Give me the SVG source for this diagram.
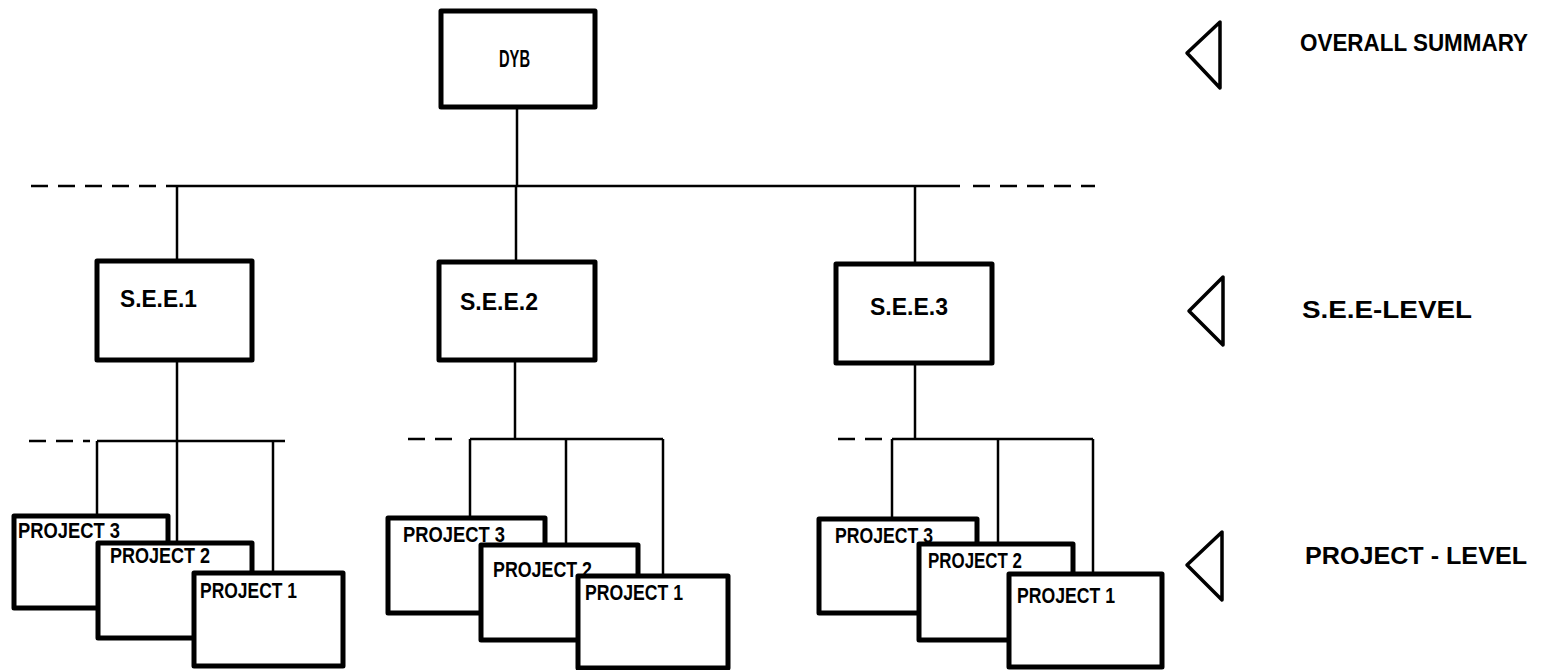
<svg xmlns="http://www.w3.org/2000/svg" width="1544" height="670" viewBox="0 0 1544 670">
<style>
.bg{fill:#fff}
.box{fill:#fff;stroke:#000;stroke-width:5;stroke-linejoin:round}
.ln{fill:none;stroke:#000;stroke-width:2.5}
.dash{fill:none;stroke:#000;stroke-width:2.5;stroke-dasharray:17 10}
.tri{fill:none;stroke:#000;stroke-width:3.5;stroke-linejoin:round}
.t{font-family:"Liberation Sans Narrow","Liberation Sans",Arial,sans-serif;font-weight:bold;fill:#000}
.bl{font-size:23px}
.pl{font-size:22px}
.rl{font-size:24px}
</style>
<rect class="bg" x="0" y="0" width="1544" height="670"/>
<g id="connectors">
  <line class="ln" x1="517" y1="107" x2="517" y2="186"/>
  <line class="dash" x1="31" y1="186" x2="177" y2="186"/>
  <line class="ln" x1="177" y1="186" x2="960" y2="186"/>
  <line class="dash" x1="973" y1="186" x2="1095" y2="186"/>
  <line class="ln" x1="177" y1="186" x2="177" y2="260"/>
  <line class="ln" x1="516" y1="186" x2="516" y2="262"/>
  <line class="ln" x1="915" y1="186" x2="915" y2="264"/>
  <line class="ln" x1="177" y1="360" x2="177" y2="441"/>
  <line class="dash" x1="29" y1="441" x2="90" y2="441"/>
  <line class="ln" x1="97" y1="441" x2="285" y2="441"/>
  <line class="ln" x1="97" y1="441" x2="97" y2="515"/>
  <line class="ln" x1="177" y1="441" x2="177" y2="543"/>
  <line class="ln" x1="273" y1="441" x2="273" y2="572"/>
  <line class="ln" x1="515" y1="360" x2="515" y2="439"/>
  <line class="dash" x1="408" y1="439" x2="462" y2="439"/>
  <line class="ln" x1="470" y1="439" x2="663" y2="439"/>
  <line class="ln" x1="470" y1="439" x2="470" y2="517"/>
  <line class="ln" x1="566" y1="439" x2="566" y2="544"/>
  <line class="ln" x1="663" y1="439" x2="663" y2="575"/>
  <line class="ln" x1="915" y1="363" x2="915" y2="439"/>
  <line class="dash" x1="838" y1="439" x2="888" y2="439"/>
  <line class="ln" x1="892" y1="439" x2="1093" y2="439"/>
  <line class="ln" x1="892" y1="439" x2="892" y2="518"/>
  <line class="ln" x1="998" y1="439" x2="998" y2="543"/>
  <line class="ln" x1="1093" y1="439" x2="1093" y2="573"/>
</g>
<g id="dyb">
  <rect class="box" x="441" y="11" width="154" height="96"/>
  <text class="t bl" x="499" y="67" textLength="31" lengthAdjust="spacingAndGlyphs">DYB</text>
</g>
<g id="see1">
  <rect class="box" x="97" y="261" width="155" height="99"/>
  <text class="t bl" x="120" y="307" textLength="77" lengthAdjust="spacingAndGlyphs">S.E.E.1</text>
</g>
<g id="see2">
  <rect class="box" x="439" y="262" width="156" height="98"/>
  <text class="t bl" x="460" y="310" textLength="78" lengthAdjust="spacingAndGlyphs">S.E.E.2</text>
</g>
<g id="see3">
  <rect class="box" x="836" y="264" width="156" height="99"/>
  <text class="t bl" x="870" y="315" textLength="78" lengthAdjust="spacingAndGlyphs">S.E.E.3</text>
</g>
<g id="g1-project3">
  <rect class="box" x="14" y="516" width="154" height="92"/>
  <text class="t pl" x="18" y="538" textLength="102" lengthAdjust="spacingAndGlyphs">PROJECT 3</text>
</g>
<g id="g1-project2">
  <rect class="box" x="98" y="543" width="154" height="95"/>
  <text class="t pl" x="110" y="563" textLength="100" lengthAdjust="spacingAndGlyphs">PROJECT 2</text>
</g>
<g id="g1-project1">
  <rect class="box" x="194" y="573" width="149" height="93"/>
  <text class="t pl" x="200" y="598" textLength="97" lengthAdjust="spacingAndGlyphs">PROJECT 1</text>
</g>
<g id="g2-project3">
  <rect class="box" x="388" y="518" width="157" height="95"/>
  <text class="t pl" x="403" y="542" textLength="102" lengthAdjust="spacingAndGlyphs">PROJECT 3</text>
</g>
<g id="g2-project2">
  <rect class="box" x="481" y="545" width="157" height="95"/>
  <text class="t pl" x="493" y="577" textLength="99" lengthAdjust="spacingAndGlyphs">PROJECT 2</text>
</g>
<g id="g2-project1">
  <rect class="box" x="578" y="576" width="150" height="92"/>
  <text class="t pl" x="585" y="600" textLength="98" lengthAdjust="spacingAndGlyphs">PROJECT 1</text>
</g>
<g id="g3-project3">
  <rect class="box" x="819" y="519" width="158" height="94"/>
  <text class="t pl" x="835" y="543" textLength="98" lengthAdjust="spacingAndGlyphs">PROJECT 3</text>
</g>
<g id="g3-project2">
  <rect class="box" x="919" y="544" width="154" height="96"/>
  <text class="t pl" x="928" y="568" textLength="94" lengthAdjust="spacingAndGlyphs">PROJECT 2</text>
</g>
<g id="g3-project1">
  <rect class="box" x="1009" y="574" width="153" height="93"/>
  <text class="t pl" x="1017" y="603" textLength="98" lengthAdjust="spacingAndGlyphs">PROJECT 1</text>
</g>
<g id="legend-overall">
  <polygon class="tri" points="1187,53 1220,22 1220,88"/>
  <text class="t rl" x="1300" y="51" textLength="228" lengthAdjust="spacingAndGlyphs">OVERALL SUMMARY</text>
</g>
<g id="legend-see">
  <polygon class="tri" points="1189,311 1223,277 1223,345"/>
  <text class="t rl" x="1302" y="318" textLength="170" lengthAdjust="spacingAndGlyphs">S.E.E-LEVEL</text>
</g>
<g id="legend-project">
  <polygon class="tri" points="1187,565 1222,532 1222,600"/>
  <text class="t rl" x="1305" y="564" textLength="222" lengthAdjust="spacingAndGlyphs">PROJECT - LEVEL</text>
</g>
</svg>
